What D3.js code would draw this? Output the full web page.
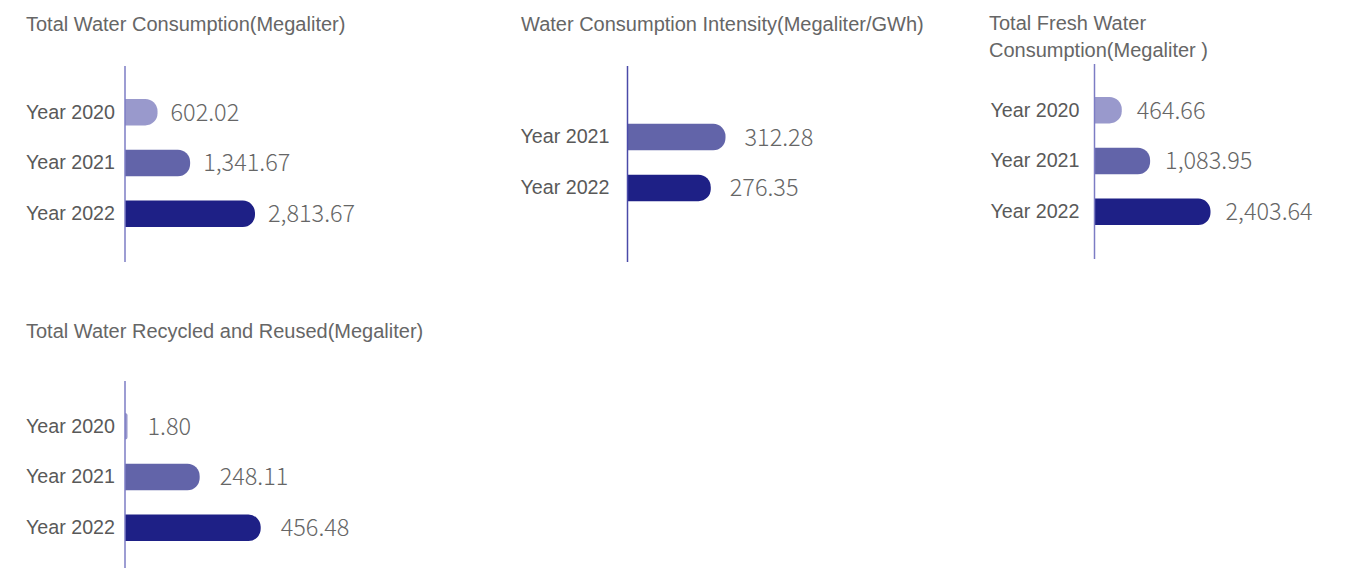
<!DOCTYPE html>
<html lang="en">
  <head>
    <meta charset="UTF-8" />
    <title>Water</title>
    <script src="https://d3js.org/d3.v7.min.js"></script>
    <style>
      body { margin: 0; background: #fff; }
    </style>
  </head>
  <body>
    <div id="graph"></div>
    <script>
      // data
      const years3 = ['Year 2020', 'Year 2021', 'Year 2022']
      const years2 = ['Year 2021', 'Year 2022']
      const totalConsumption = [602.02, 1341.67, 2813.67]
      const consumptionIntensity = [312.28, 276.35]
      const freshConsumption = [464.66, 1083.95, 2403.64]
      const recycledReused = [1.8, 248.11, 456.48]

      const yearColor = d3.scaleOrdinal().domain(years3).range(['#9999cc', '#6264a9', '#1e2086'])
      const fmt = d3.format(',.2f')

      const svg = d3.select('#graph').append('svg').attr('width', 1348).attr('height', 568)

      // panel layout
      const panels = [
        { title: ['Total Water Consumption(Megaliter)'], tx: 26, ty: 24, ax: 125, ay: [66, 262], cy: 163, pad: 10, gap: 13,
          cats: years3, vals: totalConsumption, domain: [0, d3.max(totalConsumption)], range: [6, 130], axisColor: '#7c7cc4' },
        { title: ['Water Consumption Intensity(Megaliter/GWh)'], tx: 521, ty: 24, ax: 627.5, ay: [66, 262], cy: 162.5, pad: 18, gap: 19,
          cats: years2, vals: consumptionIntensity, domain: [73, d3.max(consumptionIntensity)], range: [0, 98], axisColor: '#4a4aa8' },
        { title: ['Total Fresh Water', 'Consumption(Megaliter )'], tx: 989, ty: 23, ax: 1094.5, ay: [64, 259], cy: 161, pad: 15, gap: 15,
          cats: years3, vals: freshConsumption, domain: [0, d3.max(freshConsumption)], range: [6, 116], axisColor: '#7c7cc4' },
        { title: ['Total Water Recycled and Reused(Megaliter)'], tx: 26, ty: 331, ax: 125, ay: [381, 570], cy: 477, pad: 10, gap: 20,
          cats: years3, vals: recycledReused, domain: [0, d3.max(recycledReused)], range: [2, 135.7], axisColor: '#7c7cc4' }
      ]

      const step = 50.8
      const barH = 26.5

      // bar with rounded right end
      const barPath = (x0, y0, w, h) => {
        const r = Math.min(h / 2 - 1, w)
        return `M${x0},${y0}H${x0 + w - r}A${r},${r} 0 0 1 ${x0 + w},${y0 + r}V${y0 + h - r}A${r},${r} 0 0 1 ${x0 + w - r},${y0 + h}H${x0}Z`
      }

      panels.forEach((p) => {
        const g = svg.append('g')
        g.selectAll('text.title')
          .data(p.title)
          .join('text')
          .attr('class', 'title')
          .attr('x', p.tx)
          .attr('y', (_, i) => p.ty + i * 27)
          .attr('dy', '0.35em')
          .attr('fill', '#666')
          .attr('font-family', 'Liberation Sans, Arial, sans-serif')
          .attr('font-size', 20)
          .text((d) => d)

        const n = p.cats.length
        const yScale = d3
          .scaleBand()
          .domain(p.cats)
          .range([p.cy - (n * step) / 2, p.cy + (n * step) / 2])
          .paddingInner(1 - barH / step)
          .paddingOuter((1 - barH / step) / 2)
        const xScale = d3.scaleLinear().domain(p.domain).range(p.range)

        const rows = p.cats.map((c, i) => ({ cat: c, val: p.vals[i] }))

        g.selectAll('path.bar')
          .data(rows)
          .join('path')
          .attr('class', 'bar')
          .attr('d', (d) => barPath(p.ax, yScale(d.cat), xScale(d.val), yScale.bandwidth()))
          .attr('fill', (d) => yearColor(d.cat))

        // y axis
        const yAxis = d3.axisLeft(yScale).tickSize(0).tickPadding(p.pad)
        const ag = g.append('g').attr('transform', `translate(${p.ax},0)`).call(yAxis)
        ag.select('.domain').remove()
        ag.selectAll('text')
          .attr('fill', '#595959')
          .attr('font-family', 'Liberation Sans, Arial, sans-serif')
          .attr('font-size', 19.7)
        g.append('line')
          .attr('x1', p.ax)
          .attr('x2', p.ax)
          .attr('y1', p.ay[0])
          .attr('y2', p.ay[1])
          .attr('stroke', p.axisColor)
          .attr('stroke-width', 1.5)

        g.selectAll('text.val')
          .data(rows)
          .join('text')
          .attr('class', 'val')
          .attr('x', (d) => p.ax + xScale(d.val) + p.gap)
          .attr('y', (d) => yScale(d.cat) + yScale.bandwidth() / 2)
          .attr('dy', '0.36em')
          .attr('fill', '#666')
          .attr('font-family', 'Noto Sans CJK SC, Noto Sans, sans-serif')
          .attr('font-weight', 300)
          .attr('font-size', 23.5)
          .text((d) => fmt(d.val))
      })
    </script>
  </body>
</html>
